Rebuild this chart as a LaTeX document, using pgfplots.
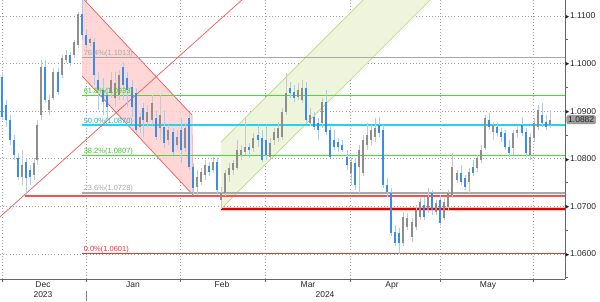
\documentclass[border=0pt]{standalone}
\usepackage{pgfplots}
\pgfplotsset{compat=1.18}
\usepackage{pgfplotstable}
\usepackage{fontspec}
\setmainfont{Liberation Sans}
\newfontfamily\dejavu{DejaVu Sans}

\definecolor{dnbody}{HTML}{3A8EEA}
\definecolor{dnwick}{HTML}{A6CDF5}
\definecolor{upbody}{HTML}{8E8E8E}
\definecolor{upwick}{HTML}{C8C8C8}
\definecolor{pinkfill}{HTML}{FFD0D0}
\definecolor{chanred}{HTML}{F05A5A}
\definecolor{greenfill}{HTML}{EEF5DC}
\definecolor{chgreen}{HTML}{BADC7E}
\definecolor{fibgreen}{HTML}{44DD33}
\definecolor{fibcyan}{HTML}{22D4EE}
\definecolor{fibgray}{HTML}{A8A8A8}
\definecolor{fibred}{HTML}{EE3333}
\definecolor{gridc}{HTML}{A0A0A0}

\pgfplotstableread{
x o h l c
22 1.0762 1.0819 1.0745 1.0787
34 1.0766 1.0802 1.0756 1.0791
37 1.0798 1.0882 1.0787 1.0871
41 1.0892 1.1008 1.0882 1.0993
49 1.0903 1.0934 1.0892 1.0924
53 1.0928 1.0991 1.0924 1.0982
62 1.0976 1.1018 1.0970 1.1012
66 1.1008 1.1029 1.1001 1.1018
74 1.1018 1.1050 1.1012 1.1045
78 1.1039 1.1108 1.1033 1.1104
90 1.1043 1.1056 1.1037 1.1052
111 1.0938 1.0982 1.0928 1.0966
115 1.0928 1.0982 1.0909 1.0959
119 1.0934 1.0987 1.0924 1.0976
140 1.0867 1.0896 1.0854 1.0888
147 1.0877 1.0913 1.0867 1.0898
152 1.0882 1.0934 1.0871 1.0917
160 1.0865 1.0934 1.0840 1.0892
168 1.0840 1.0871 1.0829 1.0861
177 1.0829 1.0861 1.0819 1.0846
185 1.0823 1.0875 1.0814 1.0865
197 1.0741 1.0777 1.0724 1.0762
201 1.0751 1.0781 1.0745 1.0772
205 1.0766 1.0798 1.0756 1.0787
213 1.0777 1.0804 1.0770 1.0793
221 1.0714 1.0741 1.0695 1.0728
225 1.0728 1.0777 1.0722 1.0770
229 1.0766 1.0791 1.0751 1.0781
233 1.0777 1.0798 1.0766 1.0791
237 1.0781 1.0840 1.0777 1.0819
241 1.0808 1.0829 1.0798 1.0819
245 1.0814 1.0888 1.0808 1.0825
253 1.0823 1.0854 1.0814 1.0844
270 1.0804 1.0844 1.0798 1.0833
274 1.0840 1.0865 1.0829 1.0856
278 1.0844 1.0877 1.0835 1.0865
282 1.0846 1.0907 1.0840 1.0898
286 1.0898 1.0980 1.0892 1.0938
298 1.0930 1.0959 1.0924 1.0945
302 1.0924 1.0966 1.0917 1.0949
310 1.0875 1.0907 1.0869 1.0892
322 1.0875 1.0928 1.0865 1.0919
351 1.0770 1.0802 1.0745 1.0793
359 1.0783 1.0829 1.0728 1.0819
363 1.0770 1.0850 1.0764 1.0840
367 1.0829 1.0875 1.0819 1.0850
371 1.0840 1.0871 1.0829 1.0861
375 1.0846 1.0886 1.0835 1.0865
403 1.0623 1.0688 1.0617 1.0678
407 1.0657 1.0686 1.0651 1.0676
412 1.0636 1.0676 1.0625 1.0667
416 1.0657 1.0703 1.0651 1.0693
420 1.0678 1.0718 1.0672 1.0709
428 1.0693 1.0739 1.0686 1.0720
436 1.0688 1.0714 1.0682 1.0707
444 1.0676 1.0718 1.0672 1.0709
448 1.0699 1.0735 1.0693 1.0728
452 1.0724 1.0812 1.0718 1.0783
457 1.0756 1.0777 1.0749 1.0770
469 1.0751 1.0781 1.0728 1.0772
477 1.0781 1.0808 1.0772 1.0802
481 1.0798 1.0829 1.0791 1.0819
485 1.0823 1.0892 1.0819 1.0886
493 1.0856 1.0877 1.0840 1.0871
513 1.0823 1.0861 1.0808 1.0854
517 1.0854 1.0867 1.0846 1.0861
530 1.0808 1.0854 1.0798 1.0846
534 1.0844 1.0886 1.0835 1.0875
538 1.0867 1.0913 1.0861 1.0903
550 1.0871 1.0903 1.0865 1.0882
}\upc

\pgfplotstableread{
x o h l c
2 1.0972 1.0982 1.0882 1.0888
6 1.0913 1.0924 1.0867 1.0882
10 1.0882 1.0892 1.0829 1.0840
14 1.0840 1.0850 1.0798 1.0808
18 1.0802 1.0812 1.0756 1.0762
26 1.0793 1.0802 1.0724 1.0760
30 1.0777 1.0787 1.0745 1.0762
45 1.0993 1.1008 1.0917 1.0924
58 1.0982 1.0991 1.0934 1.0940
70 1.1018 1.1024 1.0995 1.1001
82 1.1104 1.1139 1.1050 1.1060
86 1.1060 1.1071 1.1033 1.1039
94 1.1045 1.1054 1.0955 1.0976
98 1.0966 1.0982 1.0903 1.0945
103 1.0945 1.0970 1.0892 1.0919
107 1.0934 1.0949 1.0882 1.0909
123 1.0993 1.1003 1.0924 1.0955
127 1.0970 1.0982 1.0909 1.0945
132 1.0951 1.0966 1.0888 1.0909
136 1.0938 1.0949 1.0854 1.0861
143 1.0907 1.0917 1.0846 1.0882
156 1.0886 1.0903 1.0840 1.0846
164 1.0867 1.0903 1.0823 1.0833
173 1.0856 1.0865 1.0808 1.0814
181 1.0861 1.0886 1.0791 1.0819
189 1.0886 1.0896 1.0777 1.0783
193 1.0783 1.0791 1.0724 1.0739
209 1.0785 1.0793 1.0764 1.0772
217 1.0793 1.0802 1.0724 1.0735
249 1.0825 1.0833 1.0802 1.0819
258 1.0850 1.0871 1.0825 1.0840
262 1.0844 1.0861 1.0793 1.0798
266 1.0840 1.0871 1.0798 1.0808
290 1.0949 1.0961 1.0928 1.0938
294 1.0940 1.0955 1.0919 1.0928
306 1.0949 1.0961 1.0875 1.0882
314 1.0888 1.0898 1.0861 1.0867
318 1.0875 1.0886 1.0840 1.0861
326 1.0919 1.0945 1.0850 1.0856
330 1.0861 1.0867 1.0802 1.0804
334 1.0840 1.0861 1.0819 1.0825
338 1.0835 1.0844 1.0814 1.0825
342 1.0829 1.0840 1.0814 1.0819
347 1.0804 1.0819 1.0777 1.0787
355 1.0791 1.0802 1.0735 1.0745
379 1.0871 1.0888 1.0846 1.0854
383 1.0861 1.0871 1.0739 1.0745
387 1.0745 1.0760 1.0720 1.0730
391 1.0728 1.0739 1.0638 1.0644
395 1.0646 1.0661 1.0617 1.0623
399 1.0644 1.0655 1.0601 1.0623
424 1.0703 1.0720 1.0672 1.0678
432 1.0728 1.0735 1.0682 1.0693
440 1.0714 1.0724 1.0659 1.0665
461 1.0770 1.0787 1.0745 1.0751
465 1.0760 1.0766 1.0735 1.0741
473 1.0783 1.0798 1.0764 1.0770
489 1.0882 1.0896 1.0861 1.0867
497 1.0867 1.0875 1.0848 1.0854
501 1.0856 1.0865 1.0835 1.0846
505 1.0854 1.0861 1.0819 1.0825
509 1.0825 1.0840 1.0804 1.0812
522 1.0871 1.0888 1.0848 1.0854
526 1.0856 1.0865 1.0804 1.0812
542 1.0892 1.0917 1.0867 1.0875
546 1.0877 1.0892 1.0861 1.0867
}\dnc

\pgfplotsset{
  candle/.style 2 args={draw=none, mark=none, forget plot,
    error bars/.cd, y dir=both, y explicit, error mark=none,
    error bar style={draw=#1, solid, line width=#2}},
  hline/.style 2 args={mark=none, solid, forget plot, line width=#2, color=#1},
}

\begin{document}
\begin{tikzpicture}
\path[use as bounding box] (0,0) rectangle (600pt,302pt);
\begin{axis}[
  at={(0pt,23pt)}, anchor=south west,
  scale only axis, width=565pt, height=279pt,
  xmin=0, xmax=565, ymin=1.054748, ymax=1.113361,
  axis x line=bottom, axis y line=right,
  axis line style={draw=black!60, line width=0.6pt, -},
  /pgf/number format/assume math mode=true,
  xtick={2,86,180,265,350,440,533}, xticklabels={},
  xmajorgrids, ymajorgrids,
  major grid style={draw=gridc, dash pattern=on 0.8pt off 2.4pt, line width=0.6pt},
  ytick={1.06,1.07,1.08,1.09,1.10,1.11},
  minor ytick={1.055,1.065,1.075,1.085,1.095,1.105},
  tick align=outside,
  major tick length=3pt, minor tick length=2.5pt,
  tick style={draw=black!60, line width=0.6pt},
  every major y tick/.style={draw=none},
  yticklabel={{\dejavu\fontsize{5}{5}\selectfont\raisebox{0.6pt}{▶}}\hspace{0.6pt}\pgfmathprintnumber[fixed,fixed zerofill,precision=4]{\tick}},
  y tick label style={anchor=west, font=\fontsize{8.5}{10}\selectfont, text=black!85, inner sep=0pt, xshift=-2.6pt},
  extra x ticks={43,133,222,308,325,392,488},
  extra x tick labels={{\strut Dec\\2023},{\strut Jan},{\strut Feb},{\strut Mar},{\strut\\2024},{\strut Apr},{\strut May}},
  extra x tick style={grid=none, major tick length=0pt, tick label style={align=center, font=\fontsize{8.5}{10}\selectfont, text=black!85, inner sep=1pt}},
  clip=true,
]
% channel fills
\addplot[draw=none, fill=pinkfill, fill opacity=0.85, forget plot] coordinates {(82,1.1139) (192,1.0892) (193,1.0724) (82,1.0974)} -- cycle;
\addplot[draw=none, fill=greenfill, forget plot] coordinates {(221,1.0835) (371,1.1150) (438,1.1150) (221,1.0695)} -- cycle;
% channel edges
\addplot[hline={chanred}{0.7pt}] coordinates {(82,1.1139) (192,1.0892)};
\addplot[hline={chanred}{0.7pt}] coordinates {(82,1.0974) (193,1.0724)};
\addplot[hline={chanred!60}{0.5pt}] coordinates {(192,1.0892) (193,1.0724)};
\addplot[hline={chgreen}{0.7pt}] coordinates {(221,1.0835) (371,1.1150)};
\addplot[hline={chgreen}{0.7pt}] coordinates {(221,1.0695) (438,1.1150)};
% fibonacci levels
\addplot[hline={fibgray}{1.2pt}] coordinates {(82,1.1012) (565,1.1012)};
\addplot[hline={fibgreen}{1.8pt}] coordinates {(82,1.0933) (565,1.0933)};
\addplot[hline={fibcyan}{2pt}] coordinates {(82,1.0870) (565,1.0870)};
\addplot[hline={fibgreen}{1.8pt}] coordinates {(82,1.0807) (565,1.0807)};
\addplot[hline={fibgray}{1.2pt}] coordinates {(82,1.0728) (565,1.0728)};
\addplot[hline={fibred}{1.5pt}] coordinates {(82,1.0601) (565,1.0601)};
% horizontal supports
\addplot[hline={red!70}{1.3pt}] coordinates {(25,1.0722) (565,1.0722)};
\addplot[hline={red!25}{3.6pt}] coordinates {(221,1.0695) (565,1.0695)};
\addplot[hline={red!90!black}{2pt}] coordinates {(221,1.0695) (565,1.0695)};
% rising trend line
\addplot[hline={chanred}{0.7pt}] coordinates {(0,1.0678) (250,1.1149)};
% candles: wicks
\addplot[candle={upwick}{0.8pt}]
  table[x=x, y expr={(\thisrow{h}+\thisrow{l})/2}, y error expr={(\thisrow{h}-\thisrow{l})/2}] {\upc};
\addplot[candle={dnwick}{0.8pt}]
  table[x=x, y expr={(\thisrow{h}+\thisrow{l})/2}, y error expr={(\thisrow{h}-\thisrow{l})/2}] {\dnc};
% candles: bodies
\addplot[candle={upbody}{2.4pt}]
  table[x=x, y expr={(\thisrow{o}+\thisrow{c})/2}, y error expr={abs(\thisrow{c}-\thisrow{o})/2}] {\upc};
\addplot[candle={dnbody}{2.4pt}]
  table[x=x, y expr={(\thisrow{o}+\thisrow{c})/2}, y error expr={abs(\thisrow{o}-\thisrow{c})/2}] {\dnc};
% fib labels
\begin{scope}[every node/.style={anchor=south west, inner sep=0.6pt, font=\fontsize{7.5}{8}\selectfont}]
\node[text=fibgray] at (axis cs:83,1.1012) {76.4\%(1.1013)};
\node[text=fibgreen!90!black] at (axis cs:83,1.0933) {61.8\%(1.0933)};
\node[text=fibcyan!85!black] at (axis cs:83,1.0870) {50.0\%(1.0870)};
\node[text=fibgreen!90!black] at (axis cs:83,1.0807) {38.2\%(1.0807)};
\node[text=fibgray] at (axis cs:83,1.0728) {23.6\%(1.0728)};
\node[text=fibred] at (axis cs:83,1.0601) {0.0\%(1.0601)};
\end{scope}
\coordinate (lastp) at (axis cs:565,1.0882);
\coordinate (sep) at (axis cs:86,1.054748);
\end{axis}
\draw[black!50, line width=0.6pt] (sep) ++(0,-12pt) -- ++(0,-10pt);
\node[anchor=west, fill=black!38, draw=black!50, rounded corners=2pt, inner xsep=1.5pt, inner ysep=1.2pt,
  font=\fontsize{8.5}{10}\selectfont, text=black!85] at ([xshift=1.5pt]lastp) {1.0882};
\end{tikzpicture}
\end{document}
